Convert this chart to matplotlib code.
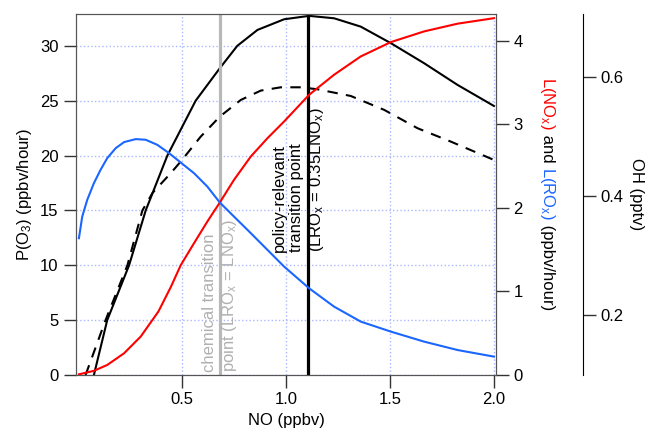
import matplotlib
matplotlib.use("Agg")
import matplotlib.pyplot as plt

plt.rcParams["font.family"] = ["Liberation Sans", "DejaVu Sans"]
plt.rcParams["mathtext.default"] = "regular"
plt.rcParams["font.size"] = 12

# P(O3), ppbv/hour (left axis), solid curve
no_p = [0.078, 0.142, 0.247, 0.327, 0.431, 0.567, 0.683, 0.767, 0.864, 0.992,
        1.112, 1.232, 1.36, 1.505, 1.665, 1.825, 2.0]
p_o3 = [0.0, 5.0, 10.0, 15.0, 20.0, 25.0, 27.96, 30.0, 31.45, 32.42,
        32.73, 32.51, 31.75, 30.24, 28.41, 26.44, 24.52]

# P(O3), dashed curve
no_pd = [0.038, 0.134, 0.239, 0.311, 0.36, 0.447, 0.495, 0.591, 0.683, 0.784, 0.88, 0.976,
         1.072, 1.152, 1.312, 1.473, 1.633, 1.793, 2.0]
p_o3_dash = [0.0, 5.0, 10.0, 15.0, 16.6, 18.39, 19.45, 21.72, 23.55, 25.07, 25.92, 26.22,
             26.22, 26.04, 25.43, 24.16, 22.49, 21.27, 19.6]

# L(ROx), ppbv/hour (right axis)
no_l = [0.006, 0.022, 0.046, 0.078, 0.110, 0.142, 0.183, 0.223, 0.279, 0.327, 0.383,
        0.439, 0.495, 0.559, 0.623, 0.683, 0.751, 0.832, 0.912, 0.992, 1.112, 1.232,
        1.36, 1.505, 1.665, 1.825, 2.0]
l_rox = [1.637, 1.896, 2.096, 2.296, 2.455, 2.595, 2.715, 2.787, 2.823, 2.815, 2.754,
         2.655, 2.543, 2.415, 2.255, 2.064, 1.896, 1.697, 1.497, 1.297, 1.038, 0.818,
         0.639, 0.519, 0.399, 0.299, 0.22]

# L(NOx), ppbv/hour (right axis)
no_n = [0.006, 0.078, 0.142, 0.223, 0.303, 0.388, 0.447, 0.495, 0.559, 0.623, 0.683,
        0.751, 0.832, 0.912, 0.992, 1.112, 1.232, 1.36, 1.505, 1.665, 1.825, 2.0]
l_nox = [0.008, 0.05, 0.12, 0.26, 0.46, 0.76, 1.05, 1.313, 1.577, 1.836, 2.064,
         2.335, 2.615, 2.834, 3.034, 3.353, 3.593, 3.812, 3.984, 4.112, 4.204, 4.27]

chem_tp = 0.686
policy_tp = 1.109

fig = plt.figure(figsize=(6.48, 4.37), dpi=100)
ax = fig.add_axes([76 / 648, 1 - 375 / 437, 420 / 648, 361 / 437])
ax2 = ax.twinx()
ax3 = ax.twinx()

ax.grid(True, color="#aab8ff", linestyle=":", linewidth=1)
ax.set_axisbelow(True)

ax.plot(no_p, p_o3, color="black", lw=1.5)
ax.plot(no_pd, p_o3_dash, color="black", lw=1.5, dashes=(5, 4))
ax2.plot(no_n, l_nox, color="#ff0000", lw=1.5)
ax2.plot(no_l, l_rox, color="#1a66ff", lw=1.5)

ax.axvline(chem_tp, color="#b8b8b8", lw=2.3)
ax.axvline(policy_tp, color="black", lw=2.3)

ax.text(chem_tp, 0.25, "chemical transition\npoint (LRO$_x$ = LNO$_x$)",
        rotation=90, ha="center", va="bottom", multialignment="left",
        color="#b0b0b0", fontsize=12)
ax.text(1.064, 11.2, "policy-relevant\ntransition point\n(LRO$_x$ = 0.35LNO$_x$)",
        rotation=90, ha="center", va="bottom", multialignment="left",
        color="black", fontsize=12)

ax.set_xlim(-0.008, 2.01)
ax.set_ylim(0, 32.9)
ax2.set_ylim(0, 4.32)
ax3.set_ylim(0.1, 0.705)

ax.set_xticks([0.5, 1.0, 1.5, 2.0])
ax.set_xticklabels(["0.5", "1.0", "1.5", "2.0"])
ax.set_yticks(range(0, 31, 5))
ax2.set_yticks(range(0, 5))
ax3.set_yticks([0.2, 0.4, 0.6])

for a in (ax, ax2, ax3):
    a.tick_params(length=9, width=1, direction="out", labelsize=12, color="#333333")
    for s in a.spines.values():
        s.set_color("#555555")

ax3.spines["right"].set_position(("axes", (583.3 - 76) / 420))
for side in ("left", "top", "bottom"):
    ax3.spines[side].set_visible(False)
ax3.spines["right"].set_color("black")

ax.set_xlabel("NO (ppbv)", fontsize=12)
ax.set_ylabel("P(O$_3$) (ppbv/hour)", fontsize=12)
ax3.set_ylabel("OH (pptv)", rotation=270, va="bottom", fontsize=12, labelpad=4)

# multicoloured right axis label, chained top to bottom
pieces = [("L(NO$_x$)", "#ff0000"), (" and ", "black"),
          ("L(RO$_x$)", "#1a66ff"), (" (ppbv/hour)", "black")]
lx = 543 / 648
prev = None
for txt, col in pieces:
    if prev is None:
        prev = fig.text(lx, 1 - 77 / 437, txt, color=col, rotation=270,
                        rotation_mode="anchor", ha="left", va="baseline",
                        fontsize=12)
    else:
        prev = ax.annotate(txt, xy=(lx, 0), xycoords=("figure fraction", prev),
                           color=col, rotation=270, rotation_mode="anchor",
                           ha="left", va="baseline", fontsize=12,
                           annotation_clip=False)

fig.savefig("out.png", dpi=100)
